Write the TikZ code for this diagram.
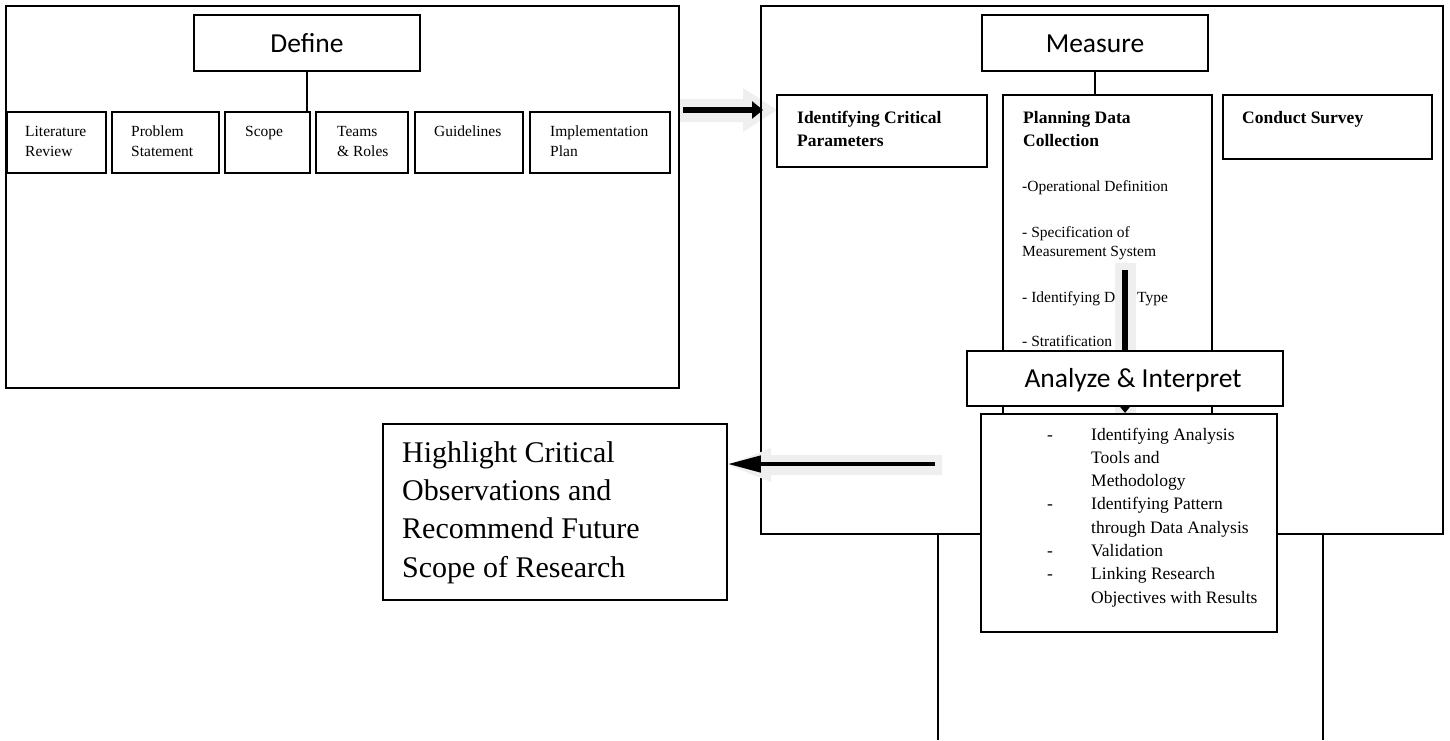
\documentclass[tikz,border=0pt]{standalone}
\usepackage{fontspec}
\setmainfont{Liberation Serif}
\newfontfamily\calfont{Carlito}
\usetikzlibrary{arrows.meta}
\definecolor{shd}{HTML}{EFEFEF}
\begin{document}
\begin{tikzpicture}[x=1pt,y=-1pt,
  box/.style={draw, line width=1.5pt, fill=white, inner sep=0pt},
  tx/.style={anchor=base west, inner sep=0pt, font=\fontsize{15.5}{18}\selectfont},
  bx/.style={anchor=base west, inner sep=0pt, font=\fontsize{17.5}{21}\bfseries\selectfont},
  lt/.style={anchor=base west, inner sep=0pt, font=\fontsize{17.5}{21}\selectfont},
  hl/.style={anchor=base west, inner sep=0pt, font=\fontsize{30}{36}\selectfont},
  ttl/.style={anchor=base, inner sep=0pt, font=\fontsize{27.5}{33}\calfont},
  conn/.style={line width=1.5pt},
  blk/.style={line width=6.5pt, -{Triangle[length=11pt,width=17pt]}}
]
\useasboundingbox (0,0) rectangle (1450,740);

% ---------- Define ----------
\fill[shd] (675,99) -- (743,99) -- (743,88) -- (777,110) -- (743,132) -- (743,122) -- (675,122) -- cycle;
\node[box, minimum width=673pt, minimum height=382pt] (defo) at (342.5,197) {};
\node[box, minimum width=226pt, minimum height=56pt] (deft) at (307,43) {};
\node[ttl] (deftx) at (307,52) {Define};
\node[box, minimum width=99pt, minimum height=61pt] (lit) at (56.5,142.5) {};
\node[box, minimum width=107pt, minimum height=61pt] (prob) at (165.5,142.5) {};
\node[box, minimum width=85pt, minimum height=61pt] (scope) at (267.5,142.5) {};
\node[box, minimum width=92pt, minimum height=61pt] (teams) at (362,142.5) {};
\node[box, minimum width=108pt, minimum height=61pt] (guide) at (469,142.5) {};
\node[box, minimum width=140pt, minimum height=61pt] (impl) at (600,142.5) {};
\draw[conn] (deft.south) -- (deft.south |- scope.north);
\node[tx] (t1) at (25,136) {Literature};
\node[tx] (t2) at (25,156) {Review};
\node[tx] (t3) at (131,136) {Problem};
\node[tx] (t4) at (131,156) {Statement};
\node[tx] (t5) at (245,136) {Scope};
\node[tx] (t6) at (337,136) {Teams};
\node[tx] (t7) at (337,156) {\& Roles};
\node[tx] (t8) at (434,136) {Guidelines};
\node[tx] (t9) at (550,136) {Implementation};
\node[tx] (t10) at (550,156) {Plan};

% ---------- Measure ----------
\node[box, fill=none, minimum width=682pt, minimum height=528pt] (mo) at (1102,270) {};
\coordinate (b1) at (938,740);
\coordinate (b2) at (1323,740);
\draw[conn] (b1 |- mo.south) -- (b1);
\draw[conn] (b2 |- mo.south) -- (b2);
\coordinate (a1s) at (683,110);
\coordinate (a1e) at (763,110);
\draw[blk] (a1s) -- (a1e);

\node[box, minimum width=226pt, minimum height=56pt] (meast) at (1095,43) {};
\node[ttl] (meastx) at (1095,52) {Measure};
\node[box, minimum width=210pt, minimum height=72pt] (idc) at (882,131) {};
\node[box, minimum width=209pt, minimum height=330pt] (plan) at (1107.5,260) {};
\node[box, minimum width=209pt, minimum height=64pt] (cond) at (1327.5,127) {};
\draw[conn] (meast.south) -- (meast.south |- plan.north);

\node[bx] (m1) at (797,123) {Identifying Critical};
\node[bx] (m2) at (797,146) {Parameters};
\node[bx] (m3) at (1023,123) {Planning Data};
\node[bx] (m4) at (1023,146) {Collection};
\node[bx] (m5) at (1242,123) {Conduct Survey};

\node[tx] (p1) at (1022,191) {-Operational Definition};
\node[tx] (p2) at (1022,237) {- Specification of};
\node[tx] (p3) at (1022,256) {Measurement System};
\node[tx] (p4) at (1022,302) {- Identifying Data Type};
\node[tx] (p5) at (1022,346) {- Stratification};

% vertical arrow
\fill[shd] (1115,263) rectangle (1136,413);
\coordinate (a3s) at (1125,270);
\coordinate (a3e) at (1125,413);
\draw[blk] (a3s) -- (a3e);

% ---------- Analyze ----------
\node[box, minimum width=316pt, minimum height=55pt] (ana) at (1125,378.5) {};
\node[ttl] (anatx) at (1133,387) {Analyze \& Interpret};
\node[box, minimum width=296pt, minimum height=218pt] (lst) at (1129,523) {};
\node[lt] (d1) at (1047,440) {-};
\node[lt] (l1) at (1091,440) {Identifying Analysis};
\node[lt] (l2) at (1091,463) {Tools and};
\node[lt] (l3) at (1091,486) {Methodology};
\node[lt] (d2) at (1047,509) {-};
\node[lt] (l4) at (1091,509) {Identifying Pattern};
\node[lt] (l5) at (1091,533) {through Data Analysis};
\node[lt] (d3) at (1047,556) {-};
\node[lt] (l6) at (1091,556) {Validation};
\node[lt] (d4) at (1047,579) {-};
\node[lt] (l7) at (1091,579) {Linking Research};
\node[lt] (l8) at (1091,603) {Objectives with Results};

% ---------- Highlight ----------
\node[box, minimum width=344pt, minimum height=176pt] (hlb) at (555,512) {};
\node[hl] (h1) at (402,462) {Highlight Critical};
\node[hl] (h2) at (402,500) {Observations and};
\node[hl] (h3) at (402,538) {Recommend Future};
\node[hl] (h4) at (402,577) {Scope of Research};

\fill[shd] (942,455) -- (771,455) -- (771,448) -- (728,465) -- (771,482) -- (771,475) -- (942,475) -- cycle;
\coordinate (a2s) at (935,464);
\coordinate (a2e) at (hlb.east |- a2s);
\draw[line width=4.3pt, -{Triangle[length=33pt,width=16pt]}] (a2s) -- (a2e);
\end{tikzpicture}
\end{document}
